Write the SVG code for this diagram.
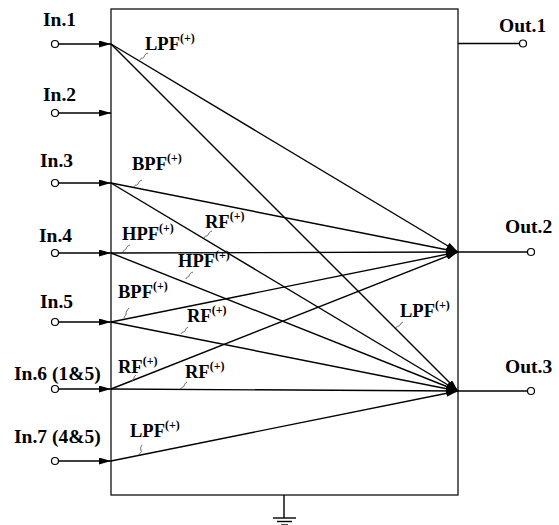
<svg xmlns="http://www.w3.org/2000/svg" width="559" height="525" viewBox="0 0 559 525">
<defs>
<marker id="ah" viewBox="0 0 12 7" refX="12" refY="3.5" markerWidth="12" markerHeight="7" markerUnits="userSpaceOnUse" orient="auto">
<path d="M0,0 L12,3.5 L0,7 z" fill="#000"/>
</marker>
<style>
.ln{stroke:#000;stroke-width:1.4;fill:none}
.bx{stroke:#222;stroke-width:1.4;fill:#fff}
.pin{stroke:#000;stroke-width:1.2;fill:#fff}
.sq{stroke:#555;stroke-width:0.9;fill:none}
.t{font-family:"Liberation Serif","Times New Roman",serif;font-weight:bold;font-size:19.5px;fill:#000}
.f{font-family:"Liberation Serif","Times New Roman",serif;font-weight:bold;font-size:18.5px;fill:#000}
.s{font-size:12px}
</style>
</defs>
<rect width="559" height="525" fill="#fff"/>
<g id="block">
<rect class="bx" x="111" y="9" width="347" height="486"/>
</g>
<g id="ground">
<line class="ln" x1="284" y1="495" x2="284" y2="518"/>
<line class="ln" x1="273" y1="518" x2="296" y2="518"/>
<line class="ln" x1="277" y1="521.5" x2="292" y2="521.5"/>
<line class="ln" x1="281" y1="525" x2="288" y2="525"/>
</g>
<g id="inputs">
<g id="in1"><line class="ln" x1="58.5" y1="44" x2="111" y2="44" marker-end="url(#ah)"/><circle class="pin" cx="55" cy="44" r="3.5"/><text class="t" x="43" y="26">In.1</text></g>
<g id="in2"><line class="ln" x1="58.5" y1="113" x2="111" y2="113" marker-end="url(#ah)"/><circle class="pin" cx="55" cy="113" r="3.5"/><text class="t" x="43" y="101">In.2</text></g>
<g id="in3"><line class="ln" x1="58.5" y1="183" x2="111" y2="183" marker-end="url(#ah)"/><circle class="pin" cx="55" cy="183" r="3.5"/><text class="t" x="40" y="167">In.3</text></g>
<g id="in4"><line class="ln" x1="58.5" y1="253" x2="111" y2="253" marker-end="url(#ah)"/><circle class="pin" cx="55" cy="253" r="3.5"/><text class="t" x="39" y="242">In.4</text></g>
<g id="in5"><line class="ln" x1="58.5" y1="322" x2="111" y2="322" marker-end="url(#ah)"/><circle class="pin" cx="55" cy="322" r="3.5"/><text class="t" x="40" y="308">In.5</text></g>
<g id="in6"><line class="ln" x1="58.5" y1="389" x2="111" y2="389" marker-end="url(#ah)"/><circle class="pin" cx="55" cy="389" r="3.5"/><text class="t" x="14" y="380">In.6 (1&amp;5)</text></g>
<g id="in7"><line class="ln" x1="58.5" y1="461" x2="111" y2="461" marker-end="url(#ah)"/><circle class="pin" cx="55" cy="461" r="3.5"/><text class="t" x="14" y="443">In.7 (4&amp;5)</text></g>
</g>
<g id="outputs">
<g id="out1"><line class="ln" x1="458" y1="43.5" x2="519.5" y2="43.5"/><circle class="pin" cx="523" cy="43.5" r="3.5"/><text class="t" x="499" y="32">Out.1</text></g>
<g id="out2"><line class="ln" x1="458" y1="252" x2="527.5" y2="252"/><circle class="pin" cx="531" cy="252" r="3.5"/><text class="t" x="505" y="233">Out.2</text></g>
<g id="out3"><line class="ln" x1="458" y1="391" x2="527.5" y2="391"/><circle class="pin" cx="531" cy="391" r="3.5"/><text class="t" x="505" y="373">Out.3</text></g>
</g>
<g id="connectors">
<line class="ln" x1="111" y1="44" x2="458" y2="252" marker-end="url(#ah)"/>
<line class="ln" x1="111" y1="44" x2="458" y2="391" marker-end="url(#ah)"/>
<line class="ln" x1="111" y1="183" x2="458" y2="252" marker-end="url(#ah)"/>
<line class="ln" x1="111" y1="183" x2="458" y2="391" marker-end="url(#ah)"/>
<line class="ln" x1="111" y1="253" x2="458" y2="252" marker-end="url(#ah)"/>
<line class="ln" x1="111" y1="253" x2="458" y2="391" marker-end="url(#ah)"/>
<line class="ln" x1="111" y1="322" x2="458" y2="252" marker-end="url(#ah)"/>
<line class="ln" x1="111" y1="322" x2="458" y2="391" marker-end="url(#ah)"/>
<line class="ln" x1="111" y1="389" x2="458" y2="252" marker-end="url(#ah)"/>
<line class="ln" x1="111" y1="389" x2="458" y2="391" marker-end="url(#ah)"/>
<line class="ln" x1="111" y1="461" x2="458" y2="391" marker-end="url(#ah)"/>
</g>
<g id="labels">
<g id="lpf1"><path class="sq" d="M140,60 c1,-3 3,-1 4,-3 s1,-3 4,-4"/><text class="f" x="145" y="50">LPF<tspan class="s" dy="-8">(+)</tspan></text></g>
<g id="bpf3"><path class="sq" d="M134,187 c1,-3 3,-1 4,-3 s1,-3 4,-4"/><text class="f" x="132" y="170">BPF<tspan class="s" dy="-8">(+)</tspan></text></g>
<g id="rf3"><path class="sq" d="M204,238 c1,-3 3,-1 4,-3 s1,-3 4,-4"/><text class="f" x="205" y="228">RF<tspan class="s" dy="-8">(+)</tspan></text></g>
<g id="hpf4a"><path class="sq" d="M123,252 c1,-3 2,-1 3,-3 s1,-3 4,-4"/><text class="f" x="122" y="240">HPF<tspan class="s" dy="-8">(+)</tspan></text></g>
<g id="hpf4b"><path class="sq" d="M186,279 c1,-3 2,-1 3,-3 s1,-3 4,-4"/><text class="f" x="178" y="267">HPF<tspan class="s" dy="-8">(+)</tspan></text></g>
<g id="bpf5"><path class="sq" d="M124,318 c1,-3 2,-2 2,-4 s1,-4 3,-6"/><text class="f" x="118" y="298">BPF<tspan class="s" dy="-8">(+)</tspan></text></g>
<g id="rf5"><path class="sq" d="M181,334 c1,-3 3,-1 4,-3 s1,-3 3,-4"/><text class="f" x="187" y="322">RF<tspan class="s" dy="-8">(+)</tspan></text></g>
<g id="rf6a"><path class="sq" d="M132,381 c1,-2 2,-1 2,-3 s1,-2 2,-3"/><text class="f" x="118" y="373">RF<tspan class="s" dy="-8">(+)</tspan></text></g>
<g id="rf6b"><path class="sq" d="M181,389 c1,-3 2,-1 3,-3 s1,-3 3,-4"/><text class="f" x="185" y="378">RF<tspan class="s" dy="-8">(+)</tspan></text></g>
<g id="lpf7"><path class="sq" d="M139,455 c1,-3 3,-2 2,-5 s0,-3 1,-5"/><text class="f" x="130" y="437">LPF<tspan class="s" dy="-8">(+)</tspan></text></g>
<g id="lpf1b"><path class="sq" d="M396,328 c1,-3 3,-1 4,-3 s1,-2 3,-3"/><text class="f" x="400" y="317">LPF<tspan class="s" dy="-8">(+)</tspan></text></g>
</g>
</svg>
